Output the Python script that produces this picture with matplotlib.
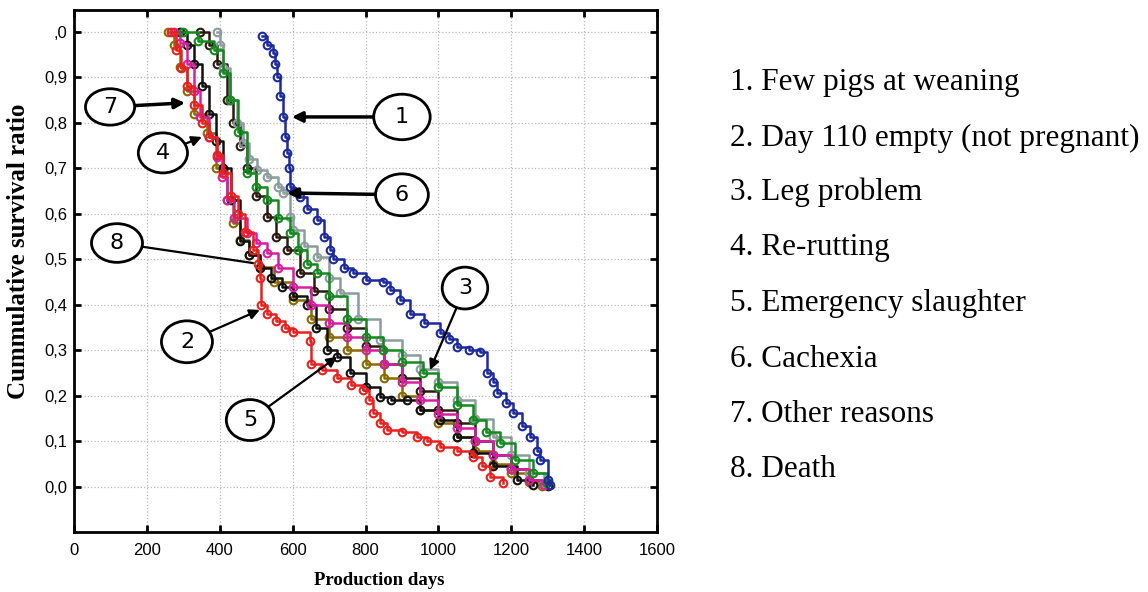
import numpy as np
import matplotlib
matplotlib.use('Agg')
import matplotlib.pyplot as plt
from matplotlib.patches import Ellipse

# survival curves (production days, survival ratio)
days_1 = [516, 530, 546, 552, 557, 566, 574, 580, 584, 590, 593, 605, 620, 640, 666, 685, 703, 711, 740, 766, 800, 848,
          867, 895, 922, 960, 1004, 1030, 1051, 1085, 1114, 1133, 1150, 1161, 1185, 1205, 1230, 1251, 1270, 1279, 1301, 1305]
surv_1 = [0.99, 0.97, 0.954, 0.93, 0.90, 0.86, 0.813, 0.77, 0.734, 0.70, 0.66, 0.65, 0.637, 0.61, 0.587, 0.55, 0.52, 0.50,
          0.48, 0.47, 0.455, 0.45, 0.433, 0.41, 0.38, 0.36, 0.338, 0.325, 0.308, 0.30, 0.297, 0.25, 0.23, 0.206, 0.185, 0.162,
          0.135, 0.11, 0.08, 0.06, 0.015, 0.005]

days_2 = [265, 280, 295, 310, 330, 350, 370, 392, 410, 430, 450, 470, 490, 505, 510, 512, 530, 555, 580, 601, 648, 650,
          680, 721, 760, 793, 810, 821, 840, 858, 900, 941, 970, 1004, 1050, 1096, 1120, 1141, 1178]
surv_2 = [1.0, 0.96, 0.92, 0.88, 0.84, 0.80, 0.77, 0.73, 0.69, 0.64, 0.60, 0.56, 0.52, 0.49, 0.46, 0.40, 0.38, 0.365,
          0.35, 0.34, 0.32, 0.27, 0.257, 0.24, 0.225, 0.213, 0.19, 0.163, 0.14, 0.125, 0.12, 0.11, 0.10, 0.088, 0.08,
          0.066, 0.045, 0.022, 0.009]

days_3 = [299, 340, 383, 410, 428, 450, 475, 500, 530, 560, 593, 615, 639, 666, 700, 749, 800, 848, 900, 958, 1000, 1050,
          1095, 1130, 1169, 1210, 1260, 1298]
surv_3 = [1.0, 0.98, 0.96, 0.91, 0.85, 0.78, 0.69, 0.66, 0.63, 0.59, 0.558, 0.52, 0.49, 0.47, 0.42, 0.37, 0.33, 0.30,
          0.275, 0.25, 0.22, 0.18, 0.147, 0.12, 0.097, 0.06, 0.03, 0.009]

days_4 = [275, 291, 310, 330, 346, 370, 392, 405, 419, 440, 475, 500, 530, 560, 600, 650, 700, 750, 800, 850, 900, 950,
          1000, 1050, 1100, 1150, 1200, 1250, 1290]
surv_4 = [1.0, 0.976, 0.93, 0.87, 0.813, 0.77, 0.725, 0.68, 0.63, 0.59, 0.558, 0.535, 0.514, 0.48, 0.44, 0.40, 0.36,
          0.33, 0.30, 0.27, 0.23, 0.19, 0.16, 0.13, 0.10, 0.07, 0.04, 0.015, 0.005]

days_5 = [290, 310, 330, 350, 370, 390, 410, 430, 455, 480, 510, 540, 570, 600, 639, 665, 694, 721, 757, 800, 840, 870,
          913, 950, 1004, 1050, 1096, 1150, 1215, 1260]
surv_5 = [1.0, 0.97, 0.93, 0.88, 0.82, 0.76, 0.70, 0.63, 0.54, 0.51, 0.48, 0.46, 0.44, 0.42, 0.40, 0.35, 0.30, 0.285,
          0.25, 0.22, 0.198, 0.19, 0.19, 0.17, 0.147, 0.11, 0.075, 0.045, 0.015, 0.005]

days_6 = [392, 400, 410, 428, 446, 464, 480, 502, 530, 560, 574, 593, 601, 630, 667, 700, 730, 780, 840, 900, 950, 1000,
          1050, 1100, 1150, 1200, 1250, 1290]
surv_6 = [1.0, 0.97, 0.92, 0.85, 0.80, 0.756, 0.72, 0.697, 0.68, 0.66, 0.646, 0.593, 0.565, 0.53, 0.505, 0.46, 0.426,
          0.37, 0.323, 0.29, 0.26, 0.23, 0.19, 0.15, 0.11, 0.07, 0.03, 0.008]

days_7 = [258, 275, 291, 310, 330, 364, 390, 419, 437, 455, 480, 510, 550, 600, 650, 700, 750, 800, 850, 900, 950, 1000,
          1050, 1100, 1150, 1200, 1250, 1285]
surv_7 = [1.0, 0.97, 0.923, 0.87, 0.82, 0.778, 0.70, 0.63, 0.58, 0.543, 0.51, 0.484, 0.45, 0.41, 0.37, 0.33, 0.30, 0.27,
          0.24, 0.20, 0.17, 0.14, 0.11, 0.08, 0.05, 0.03, 0.01, 0.003]

days_8 = [346, 370, 392, 419, 437, 455, 475, 500, 530, 555, 584, 620, 660, 700, 750, 800, 850, 900, 950, 1000, 1050,
          1100, 1150, 1200, 1250, 1300]
surv_8 = [1.0, 0.97, 0.93, 0.85, 0.80, 0.75, 0.70, 0.64, 0.593, 0.55, 0.52, 0.47, 0.43, 0.39, 0.35, 0.31, 0.27, 0.24,
          0.21, 0.17, 0.14, 0.10, 0.07, 0.04, 0.015, 0.003]

reasons = ['Few pigs at weaning', 'Day 110 empty (not pregnant)', 'Leg problem', 'Re-rutting',
           'Emergency slaughter', 'Cachexia', 'Other reasons', 'Death']
y_ticks = [0.0, 0.1, 0.2, 0.3, 0.4, 0.5, 0.6, 0.7, 0.8, 0.9, 1.0]
y_labels = ['0,0', '0,1', '0,2', '0,3', '0,4', '0,5', '0,6', '0,7', '0,8', '0,9', ',0']
x_ticks = [0, 200, 400, 600, 800, 1000, 1200, 1400, 1600]

curves = [(days_1, surv_1), (days_2, surv_2), (days_3, surv_3), (days_4, surv_4),
          (days_5, surv_5), (days_6, surv_6), (days_7, surv_7), (days_8, surv_8)]
colors = ['#1c2a9c', '#e8211e', '#138a1e', '#d81ea0', '#111111', '#8a9c9c', '#8b6a00', '#2a1a10']

W, H = 1148, 592
fig = plt.figure(figsize=(W / 100, H / 100), dpi=100)
ax = fig.add_axes([74 / W, 1 - 532 / H, (657 - 74) / W, (532 - 10) / H])

# draw in reverse so blue/red sit on top like the scan
for (d, s), c in list(zip(curves, colors))[::-1]:
    ax.plot(d, s, drawstyle='steps-post', color=c, lw=1.8, marker='o', ms=5.5,
            mfc='none', mec=c, mew=1.5)

ax.set_xlim(0, 1600)
ax.set_ylim(-0.099, 1.048)
ax.set_xticks(x_ticks)
ax.set_yticks(y_ticks)
ax.set_yticklabels(y_labels)
for lab in ax.get_xticklabels() + ax.get_yticklabels():
    lab.set_family('Liberation Sans')
    lab.set_fontsize(12)
ax.tick_params(axis='both', direction='in', length=5, width=2, top=True, right=True, colors='black')
ax.tick_params(axis='x', pad=8)
ax.tick_params(axis='y', pad=5)
for sp in ax.spines.values():
    sp.set_linewidth(2)
ax.grid(True, ls=':', color='#b8b8b8', lw=0.9)
ax.set_axisbelow(True)

ax.set_xlabel('Production days', family='Liberation Serif', weight='bold', fontsize=13.5)
ax.xaxis.set_label_coords((379 - 74) / 583, -(592 - 532 - 3) / 522)
ax.xaxis.label.set_va('bottom')
ax.set_ylabel('Cummulative survival ratio', family='Liberation Serif', weight='bold', fontsize=18)
ax.yaxis.set_label_coords(-(74 - 30) / 583, (532 - 251) / 522)

# numbered ellipses with arrows pointing to the curves
notes = [('1', (900, 0.813), (598, 0.813), 2.5, '-|>', 155, 0.1),
         ('6', (900, 0.642), (585, 0.646), 2.5, '-|>', 145, 0.092),
         ('7', (99, 0.835), (305, 0.844), 2.5, '-|>', 135, 0.08),
         ('4', (244, 0.734), (351, 0.769), 1.6, '-|>', 135, 0.088),
         ('8', (118, 0.536), (491, 0.492), 1.6, '-', 140, 0.085),
         ('2', (310, 0.319), (510, 0.389), 1.6, '-|>', 140, 0.092),
         ('5', (483, 0.147), (722, 0.286), 1.6, '-|>', 130, 0.09),
         ('3', (1073, 0.437), (977, 0.257), 1.6, '-|>', 125, 0.092)]
for txt, cen, tip, lw, style, ew, eh in notes:
    ell = Ellipse(cen, ew, eh, fc='white', ec='black', lw=2, zorder=5)
    ax.add_patch(ell)
    ax.text(cen[0], cen[1], txt, ha='center', va='center', fontsize=16, zorder=6)
    ax.annotate('', xy=tip, xytext=cen,
                arrowprops=dict(arrowstyle=style if style == '-' else '-|>,head_length=0.6,head_width=0.3',
                                color='black', lw=lw, patchA=ell, shrinkA=0, shrinkB=0),
                zorder=4)

# list of culling reasons on the right
baselines = [90, 146, 200, 255, 311, 367, 422, 477]
for i, (r, b) in enumerate(zip(reasons, baselines)):
    fig.text(730 / W, 1 - b / H, '%d. %s' % (i + 1, r), family='Liberation Serif',
             fontsize=22.5, va='baseline', ha='left')

fig.savefig('out.png', dpi=100)
